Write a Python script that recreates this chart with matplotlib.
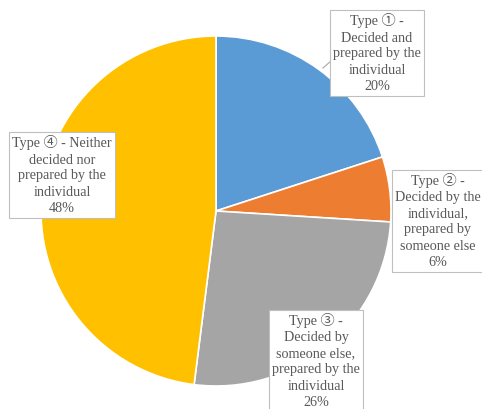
import matplotlib.pyplot as plt

# Share of each type (percent)
labels = [
    "Type \u2460 -\nDecided and\nprepared by the\nindividual",
    "Type \u2461 -\nDecided by the\nindividual,\nprepared by\nsomeone else",
    "Type \u2462 -\nDecided by\nsomeone else,\nprepared by the\nindividual",
    "Type \u2463 - Neither\ndecided nor\nprepared by the\nindividual",
]
shares = [20, 6, 26, 48]
colors = ["#5B9BD5", "#ED7D31", "#A5A5A5", "#FFC000"]

W, H = 482, 409
fig = plt.figure(figsize=(W / 100, H / 100), dpi=100)
ax = fig.add_axes([0, 0, 1, 1])

cx, cy, r = 216, H - 211, 175
ax.pie(shares, colors=colors, startangle=90, counterclock=False,
       center=(cx, cy), radius=r, frame=True,
       wedgeprops=dict(edgecolor="white", linewidth=1.2))
ax.set_xlim(0, W)
ax.set_ylim(0, H)
ax.set_aspect("equal")
ax.axis("off")

# label box centres in pixel coordinates (y from top)
box_pos = [(377, 53), (438, 221), (316, 361), (62, 175)]
font = ["Liberation Serif", "Noto Sans CJK JP", "DejaVu Sans"]

# leader line for the first label
ax.plot([323, 331], [H - 68, H - 61], color="#A6A6A6", lw=0.8)

for lab, v, (px, py) in zip(labels, shares, box_pos):
    ax.text(px, H - py, f"{lab}\n{v}%", ha="center", va="center",
            fontsize=10.2, family=font, color="#595959", linespacing=1.3,
            bbox=dict(boxstyle="square,pad=0.25", fc="white", ec="#BFBFBF", lw=0.8))

fig.savefig("out.png", dpi=100)
